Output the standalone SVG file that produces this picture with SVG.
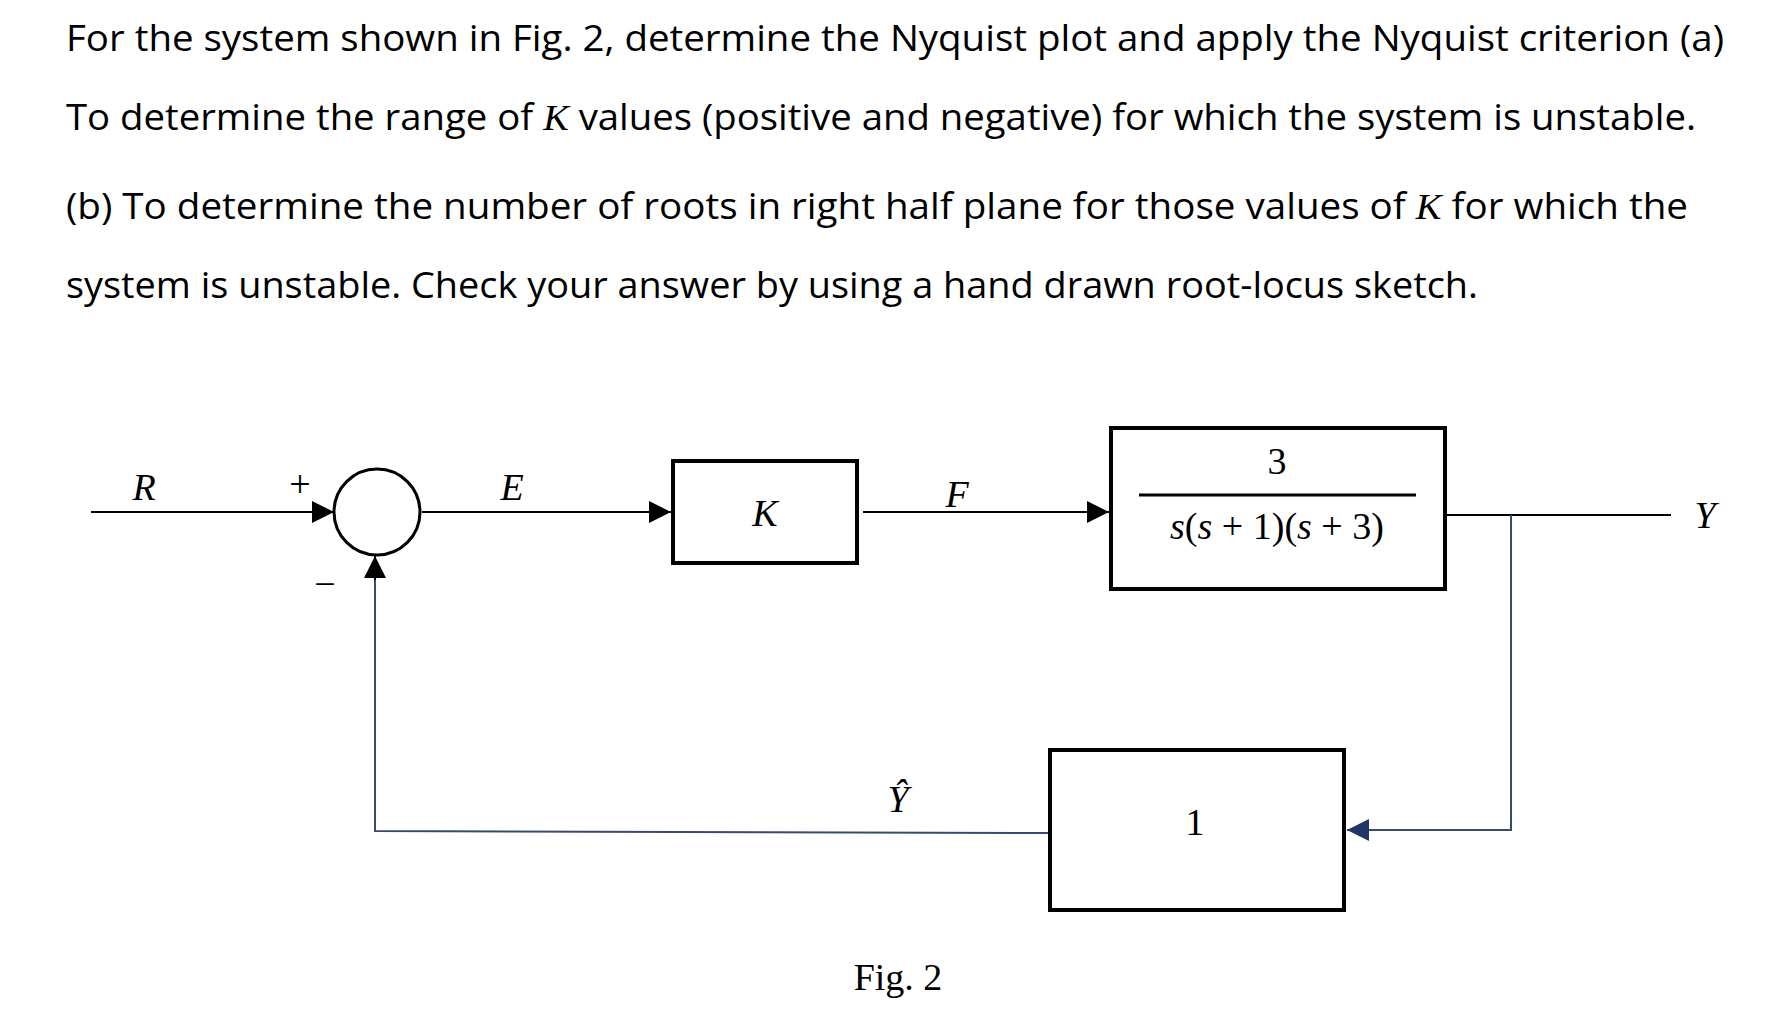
<svg xmlns="http://www.w3.org/2000/svg" width="1767" height="1023" viewBox="0 0 1767 1023">
<style>
.q{font-family:"Open Sans","Liberation Sans",sans-serif;font-size:36px;fill:#000}
.m{font-family:"Liberation Serif",serif;font-size:38px;font-style:italic;fill:#000}
.n{font-family:"Liberation Serif",serif;font-size:38px;fill:#000}
.b{fill:none;stroke:#000;stroke-width:4}
.l{fill:none;stroke:#000;stroke-width:2}
.fb{fill:none;stroke:#3a4a6a;stroke-width:2}
</style>
<defs>
<marker id="a" viewBox="0 0 10 10" refX="10" refY="5" markerWidth="22" markerHeight="22" markerUnits="userSpaceOnUse" orient="auto"><path d="M0,0L10,5L0,10z" fill="#000"/></marker>
<marker id="an" viewBox="0 0 10 10" refX="10" refY="5" markerWidth="22" markerHeight="22" markerUnits="userSpaceOnUse" orient="auto"><path d="M0,0L10,5L0,10z" fill="#1f3566"/></marker>
</defs>
<rect width="1767" height="1023" fill="#fff"/>
<g id="question">
<text class="q" x="66" y="51" textLength="1658" lengthAdjust="spacingAndGlyphs">For the system shown in Fig. 2, determine the Nyquist plot and apply the Nyquist criterion  (a)</text>
<text class="q" x="66" y="130" textLength="1630" lengthAdjust="spacingAndGlyphs">To determine the range of <tspan font-family="Liberation Serif" font-style="italic">K</tspan> values (positive and negative) for which the system is unstable.</text>
<text class="q" x="66" y="219" textLength="1622" lengthAdjust="spacingAndGlyphs">(b) To determine the number of roots in right half plane for those values of <tspan font-family="Liberation Serif" font-style="italic">K</tspan>  for which the</text>
<text class="q" x="66" y="298" textLength="1412" lengthAdjust="spacingAndGlyphs">system is unstable. Check your answer by using a hand drawn root-locus sketch.</text>
</g>
<g id="connectors">
<line class="l" x1="91" y1="512" x2="334" y2="512" marker-end="url(#a)"/>
<line class="l" x1="422" y1="512" x2="671" y2="512" marker-end="url(#a)"/>
<line class="l" x1="863" y1="512" x2="1109" y2="512" marker-end="url(#a)"/>
<line class="l" x1="1447" y1="515" x2="1671" y2="515"/>
<polyline class="fb" points="1511,515 1511,830 1347,830" marker-end="url(#an)"/>
<polyline class="fb" points="1050,833 375,831 375,578"/>
<line class="l" x1="375" y1="580" x2="375" y2="556" marker-end="url(#a)"/>
</g>
<g id="sum">
<circle cx="377" cy="512" r="43" fill="none" stroke="#000" stroke-width="3"/>
<text class="n" x="300" y="497" text-anchor="middle" font-size="34">+</text>
<text class="n" x="325" y="597" text-anchor="middle" font-size="34">−</text>
</g>
<g id="labels">
<text class="m" x="144" y="500" text-anchor="middle">R</text>
<text class="m" x="512" y="500" text-anchor="middle">E</text>
<text class="m" x="957" y="507" text-anchor="middle">F</text>
<text class="m" x="1705" y="528" text-anchor="middle">Y</text>
<text class="m" x="898" y="812" text-anchor="middle">Ŷ</text>
<text class="n" x="898" y="990" text-anchor="middle" font-size="44">Fig. 2</text>
</g>
<g id="K">
<rect class="b" x="673" y="461" width="184" height="102"/>
<text class="m" x="765" y="526" text-anchor="middle">K</text>
</g>
<g id="plant">
<rect class="b" x="1111" y="428" width="334" height="161"/>
<text class="n" x="1277" y="474" text-anchor="middle">3</text>
<line x1="1139" y1="495" x2="1416" y2="495" stroke="#000" stroke-width="3"/>
<text class="n" x="1277" y="539" text-anchor="middle" font-size="42"><tspan font-style="italic">s</tspan>(<tspan font-style="italic">s</tspan> + 1)(<tspan font-style="italic">s</tspan> + 3)</text>
</g>
<g id="H">
<rect class="b" x="1050" y="750" width="294" height="160"/>
<text class="n" x="1195" y="835" text-anchor="middle">1</text>
</g>
</svg>
